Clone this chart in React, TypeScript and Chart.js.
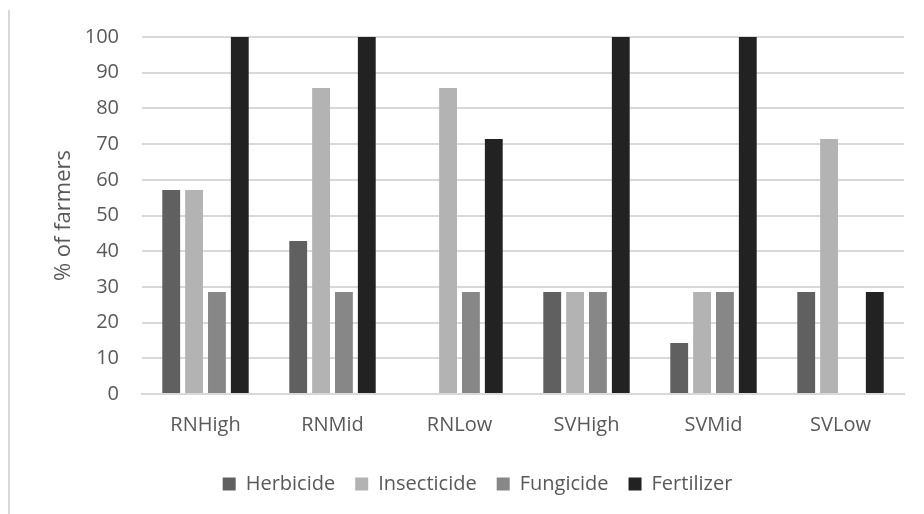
import React, { useEffect, useRef } from "react";
import { Chart, registerables } from "chart.js";

Chart.register(...registerables);

const categories = ["RNHigh", "RNMid", "RNLow", "SVHigh", "SVMid", "SVLow"];
const herbicide = [57.14, 42.86, 0, 28.57, 14.29, 28.57];
const insecticide = [57.14, 85.71, 85.71, 28.57, 28.57, 71.43];
const fungicide = [28.57, 28.57, 28.57, 28.57, 28.57, 0];
const fertilizer = [100, 100, 71.43, 100, 100, 28.57];
const yTicks = [0, 10, 20, 30, 40, 50, 60, 70, 80, 90, 100];

const FONT = "'Open Sans', 'Noto Sans', sans-serif";
const TEXT = "#595959";

export default function App() {
  const ref = useRef<HTMLCanvasElement | null>(null);

  useEffect(() => {
    document.body.style.margin = "0";
    const ctx = ref.current!;
    const chart = new Chart(ctx, {
      type: "bar",
      data: {
        labels: categories,
        datasets: [
          { label: "Herbicide", data: herbicide, backgroundColor: "#606060" },
          { label: "Insecticide", data: insecticide, backgroundColor: "#b3b3b3" },
          { label: "Fungicide", data: fungicide, backgroundColor: "#878787" },
          { label: "Fertilizer", data: fertilizer, backgroundColor: "#222222" },
        ],
      },
      options: {
        animation: false,
        responsive: false,
        maintainAspectRatio: false,
        layout: { padding: { left: 51, right: 20, top: 37, bottom: 10 } },
        datasets: { bar: { categoryPercentage: 0.72, barPercentage: 0.78 } },
        plugins: {
          tooltip: { enabled: false },
          legend: {
            position: "bottom",
            labels: {
              color: TEXT,
              font: { family: FONT, size: 20 },
              boxWidth: 13,
              boxHeight: 13,
              padding: 20,
            },
          },
        },
        scales: {
          x: {
            grid: { display: false },
            border: { color: "#d9d9d9", width: 2 },
            ticks: { color: TEXT, font: { family: FONT, size: 20 }, padding: 11 },
            afterFit: (axis: any) => {
              axis.height = 60;
            },
          },
          y: {
            min: 0,
            max: 100,
            afterBuildTicks: (axis: any) => {
              axis.ticks = yTicks.map((v) => ({ value: v }));
            },
            afterFit: (axis: any) => {
              axis.width = 91;
            },
            grid: { color: "#d9d9d9", lineWidth: 2, drawTicks: false },
            border: { display: false },
            ticks: { color: TEXT, font: { family: FONT, size: 20 }, padding: 23 },
            title: {
              display: true,
              text: "% of farmers",
              color: TEXT,
              font: { family: FONT, size: 22 },
              padding: 0,
            },
          },
        },
      },
    });
    return () => chart.destroy();
  }, []);

  return (
    <div style={{ position: "relative", width: 924, height: 514 }}>
      <div
        style={{
          position: "absolute",
          left: 8,
          top: 10,
          width: 2,
          height: 504,
          background: "#d9d9d9",
        }}
      />
      <canvas ref={ref} width={924} height={514} style={{ display: "block" }} />
    </div>
  );
}
